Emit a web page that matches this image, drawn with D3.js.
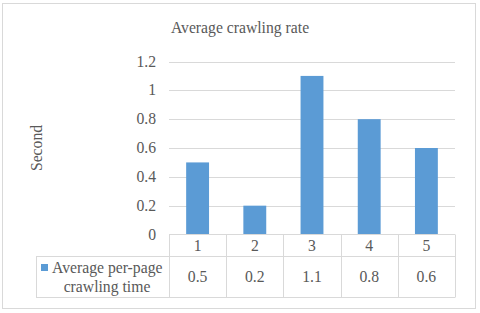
<!DOCTYPE html>
<html>
<head>
<meta charset="UTF-8">
<script src="https://cdn.jsdelivr.net/npm/d3@7"></script>
<style>
  body { margin: 0; background: #fff; }
</style>
</head>
<body>
<script>
  var categories = ["1", "2", "3", "4", "5"];
  var values = [0.5, 0.2, 1.1, 0.8, 0.6];
  var yTicks = [0, 0.2, 0.4, 0.6, 0.8, 1, 1.2];
  var seriesName = ["Average per-page", "crawling time"];

  var width = 480, height = 313;
  var plotLeft = 169, plotRight = 455, plotTop = 61.5, plotBottom = 234.5;
  var row1 = 256.5, row2 = 297.5, tableLeft = 36;
  var fontFam = "'Liberation Serif', 'Times New Roman', 'DejaVu Serif', serif";
  var fs = 15.7;

  var svg = d3.select("body").append("svg")
    .attr("width", width)
    .attr("height", height)
    .attr("font-family", fontFam);

  svg.append("rect")
    .attr("x", 2.5).attr("y", 3.5)
    .attr("width", 473).attr("height", 305)
    .attr("fill", "#fff").attr("stroke", "#d9d9d9");

  var x = d3.scaleBand().domain(categories).range([plotLeft, plotRight]);
  var y = d3.scaleLinear().domain([0, 1.2]).range([plotBottom, plotTop]);

  // gridlines
  svg.append("g").selectAll("line")
    .data(yTicks.slice(1))
    .enter().append("line")
    .attr("x1", plotLeft).attr("x2", plotRight)
    .attr("y1", d => Math.round(y(d)) + 0.5).attr("y2", d => Math.round(y(d)) + 0.5)
    .attr("stroke", "#d9d9d9");

  // y tick labels
  svg.append("g").selectAll("text")
    .data(yTicks)
    .enter().append("text")
    .attr("x", 156)
    .attr("y", d => y(d) + 5)
    .attr("text-anchor", "end")
    .attr("font-size", fs)
    .attr("fill", "#595959")
    .text(d => d3.format("")(d));

  // bars
  var bw = x.bandwidth() * 0.4;
  svg.append("g").selectAll("rect")
    .data(values)
    .enter().append("rect")
    .attr("x", (d, i) => x(categories[i]) + (x.bandwidth() - bw) / 2)
    .attr("y", d => y(d))
    .attr("width", bw)
    .attr("height", d => y(0) - y(d))
    .attr("fill", "#5b9bd5");

  // data table
  var grid = svg.append("g").attr("stroke", "#d9d9d9").attr("fill", "none");
  grid.append("line").attr("x1", plotLeft).attr("x2", plotRight).attr("y1", plotBottom).attr("y2", plotBottom);
  grid.append("line").attr("x1", tableLeft).attr("x2", plotRight).attr("y1", row1).attr("y2", row1);
  grid.append("line").attr("x1", tableLeft).attr("x2", plotRight).attr("y1", row2).attr("y2", row2);
  grid.append("line").attr("x1", tableLeft + 0.5).attr("x2", tableLeft + 0.5).attr("y1", row1).attr("y2", row2);
  grid.selectAll(".v")
    .data(categories.map(c => x(c)).concat([plotRight]))
    .enter().append("line")
    .attr("x1", d => Math.round(d) + 0.5).attr("x2", d => Math.round(d) + 0.5)
    .attr("y1", plotBottom).attr("y2", row2);

  svg.append("g").selectAll("text")
    .data(categories)
    .enter().append("text")
    .attr("x", d => x(d) + x.bandwidth() / 2)
    .attr("y", (plotBottom + row1) / 2 + 5)
    .attr("text-anchor", "middle")
    .attr("font-size", fs)
    .attr("fill", "#595959")
    .text(d => d);

  svg.append("g").selectAll("text")
    .data(values)
    .enter().append("text")
    .attr("x", (d, i) => x(categories[i]) + x.bandwidth() / 2)
    .attr("y", (row1 + row2) / 2 + 5)
    .attr("text-anchor", "middle")
    .attr("font-size", fs)
    .attr("fill", "#595959")
    .text(d => d);

  // legend key in table
  svg.append("rect")
    .attr("x", 41).attr("y", 264)
    .attr("width", 7).attr("height", 7)
    .attr("fill", "#5b9bd5");
  svg.append("text")
    .attr("x", 52).attr("y", 273)
    .attr("font-size", fs)
    .attr("fill", "#595959")
    .text(seriesName[0]);
  svg.append("text")
    .attr("x", 107).attr("y", 292)
    .attr("text-anchor", "middle")
    .attr("font-size", fs)
    .attr("fill", "#595959")
    .text(seriesName[1]);

  // title
  svg.append("text")
    .attr("x", 240).attr("y", 33)
    .attr("text-anchor", "middle")
    .attr("font-size", fs)
    .attr("fill", "#595959")
    .text("Average crawling rate");

  // y axis title
  svg.append("text")
    .attr("transform", "translate(42," + ((plotTop + plotBottom) / 2) + ") rotate(-90)")
    .attr("text-anchor", "middle")
    .attr("font-size", fs)
    .attr("fill", "#595959")
    .text("Second");
</script>
</body>
</html>
